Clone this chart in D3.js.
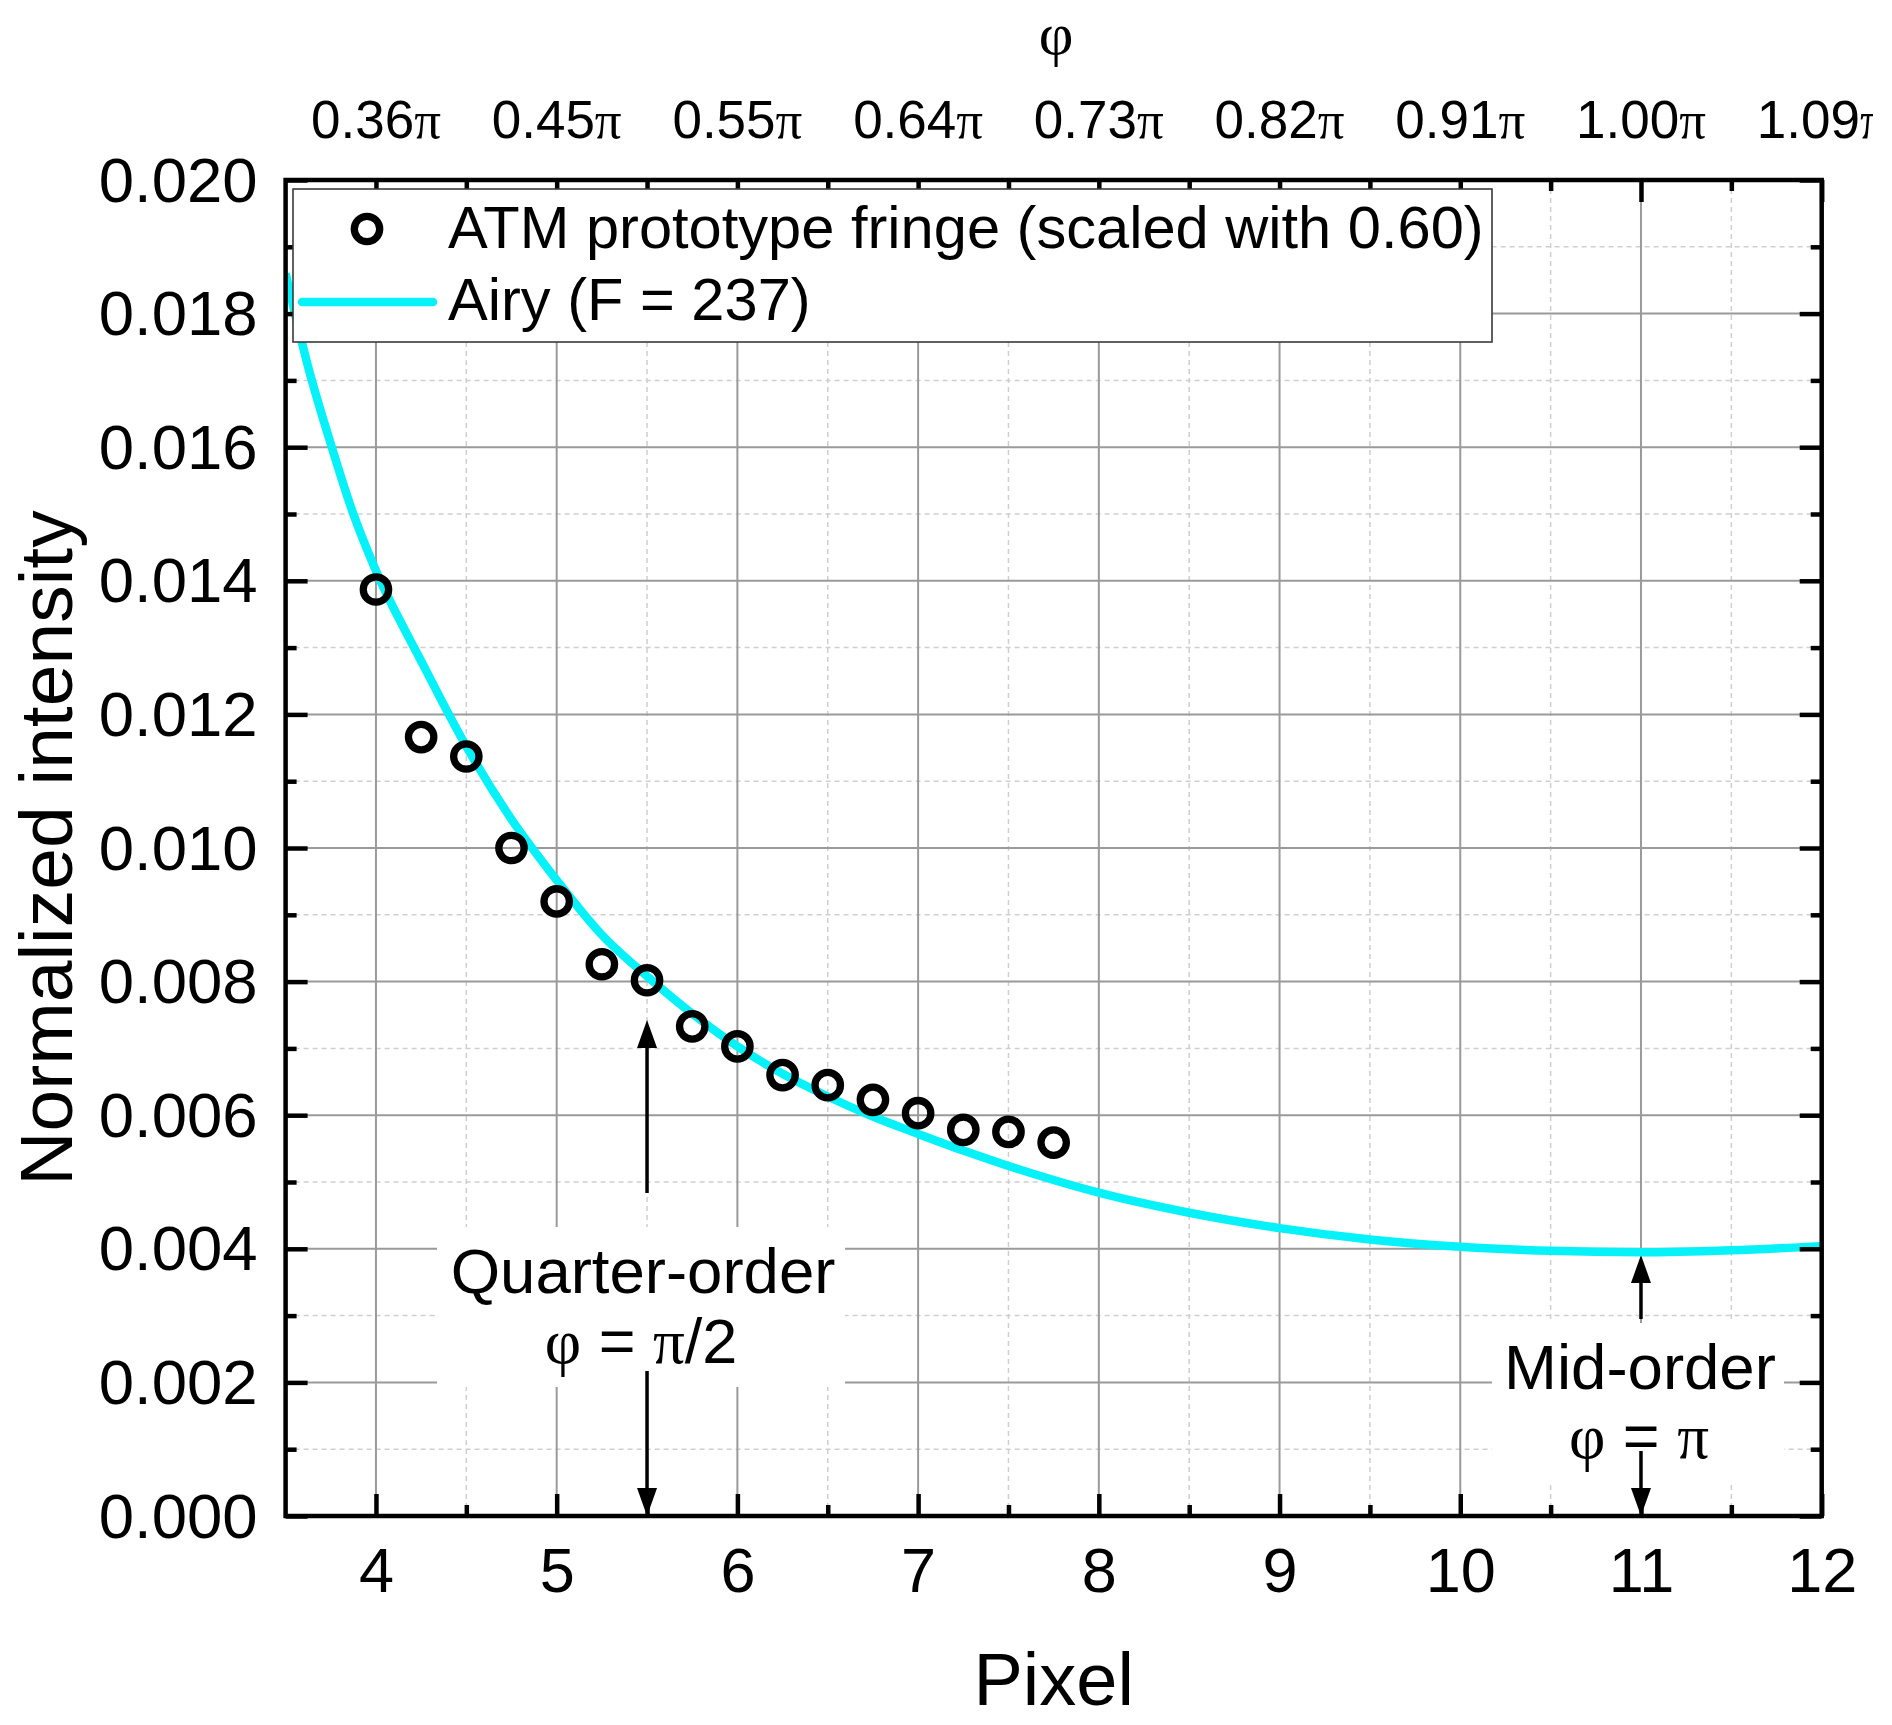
<!DOCTYPE html>
<html><head><meta charset="utf-8">
<script src="https://cdn.jsdelivr.net/npm/d3@7"></script>
<style>body{margin:0;background:#fff} svg{display:block}</style>
</head><body>
<svg id="chart" width="1892" height="1725"></svg>
<script>
// ---------- data ----------
const pixelTicks = [4, 5, 6, 7, 8, 9, 10, 11, 12];
const phiTickLabels = ["0.36", "0.45", "0.55", "0.64", "0.73", "0.82", "0.91", "1.00", "1.09"];
const intensityTicks = [0, 0.002, 0.004, 0.006, 0.008, 0.010, 0.012, 0.014, 0.016, 0.018, 0.020];

const fringePixels = [4, 4.25, 4.5, 4.75, 5, 5.25, 5.5, 5.75, 6, 6.25, 6.5, 6.75, 7, 7.25, 7.5, 7.75];
const fringeValues = [0.01387, 0.01166, 0.01137, 0.01000, 0.00920, 0.00826, 0.00802, 0.00733,
                      0.00703, 0.00660, 0.00645, 0.00623, 0.00603, 0.00578, 0.00575, 0.00559];

const airyPixels = [3.5, 3.625, 3.75, 3.875, 4, 4.25, 4.5, 4.75, 5, 5.25, 5.5, 5.75, 6, 6.25, 6.5,
                    6.75, 7, 7.25, 7.5, 7.75, 8, 8.5, 9, 9.5, 10, 10.5, 11, 11.5, 12];
const airyValues = [0.0186, 0.0172, 0.01605, 0.0150, 0.01415, 0.0128, 0.01152, 0.01043, 0.00952,
                    0.00870, 0.00808, 0.00752, 0.00703, 0.00662, 0.00628, 0.00598, 0.00572, 0.00547,
                    0.00524, 0.00503, 0.00484, 0.00454, 0.00431, 0.00414, 0.00403, 0.00397, 0.00395,
                    0.00398, 0.00404];

const legendLabels = ["ATM prototype fringe (scaled with 0.60)", "Airy (F = 237)"];

// ---------- setup ----------
const SANS = "'Liberation Sans', Arial, Helvetica, sans-serif";
const SERIF = "'Liberation Serif', 'Times New Roman', serif";
const CYAN = "#06F2F8";
const svg = d3.select("#chart");
const x = d3.scaleLinear().domain([3.5, 12]).range([285.6, 1821.7]);
const y = d3.scaleLinear().domain([0, 0.02]).range([1516, 180]);
const [X0, X1] = x.range();
const [Y0, Y1] = y.range(); // Y0 bottom, Y1 top

svg.append("defs").append("clipPath").attr("id", "plotclip")
  .append("rect").attr("x", X0).attr("y", Y1).attr("width", X1 - X0).attr("height", Y0 - Y1);
svg.select("defs").append("clipPath").attr("id", "topclip")
  .append("rect").attr("x", 0).attr("y", 0).attr("width", 1873).attr("height", 175);

// ---------- grid ----------
const grid = svg.append("g");
const minorX = d3.range(4.5, 12, 1);
const majorX = d3.range(4, 12, 1);
const minorY = d3.range(0.001, 0.0200, 0.002);
const majorY = d3.range(0.002, 0.0199, 0.002);
grid.selectAll(".mx").data(minorX).join("line")
  .attr("x1", d => x(d)).attr("x2", d => x(d)).attr("y1", Y1).attr("y2", Y0)
  .attr("stroke", "#cfcfcf").attr("stroke-width", 1.5).attr("stroke-dasharray", "5,4");
grid.selectAll(".my").data(minorY).join("line")
  .attr("y1", d => y(d)).attr("y2", d => y(d)).attr("x1", X0).attr("x2", X1)
  .attr("stroke", "#cfcfcf").attr("stroke-width", 1.5).attr("stroke-dasharray", "5,4");
grid.selectAll(".Mx").data(majorX).join("line")
  .attr("x1", d => x(d)).attr("x2", d => x(d)).attr("y1", Y1).attr("y2", Y0)
  .attr("stroke", "#9a9a9a").attr("stroke-width", 2);
grid.selectAll(".My").data(majorY).join("line")
  .attr("y1", d => y(d)).attr("y2", d => y(d)).attr("x1", X0).attr("x2", X1)
  .attr("stroke", "#9a9a9a").attr("stroke-width", 2);

// ---------- annotation boxes (white, cover grid) ----------
const ann = svg.append("g");
const qx = x(5.5), mx = x(11);
ann.append("rect").attr("x", qx - 210).attr("y", 1227).attr("width", 408).attr("height", 160).attr("fill", "#fff");
ann.append("rect").attr("x", mx - 149).attr("y", 1323).attr("width", 292).attr("height", 160).attr("fill", "#fff");

// ---------- curve ----------
const airy = airyPixels.map((p, i) => [p, airyValues[i]]);
svg.append("path").datum(airy)
  .attr("clip-path", "url(#plotclip)")
  .attr("fill", "none").attr("stroke", CYAN).attr("stroke-width", 8.5)
  .attr("d", d3.line().x(d => x(d[0])).y(d => y(d[1])).curve(d3.curveMonotoneX));

// ---------- points ----------
svg.append("g").selectAll("circle").data(fringePixels.map((p, i) => [p, fringeValues[i]]))
  .join("circle")
  .attr("cx", d => x(d[0])).attr("cy", d => y(d[1])).attr("r", 12.7)
  .attr("fill", "none").attr("stroke", "#000").attr("stroke-width", 7.3);

// ---------- annotations ----------
function arrow(g, cx, yFrom, yTip) {
  const dir = yTip > yFrom ? 1 : -1;
  const hl = 28, hw = 10;
  g.append("line").attr("x1", cx).attr("x2", cx).attr("y1", yFrom).attr("y2", yTip - dir * hl)
    .attr("stroke", "#000").attr("stroke-width", 3.5);
  g.append("path").attr("fill", "#000")
    .attr("d", `M${cx},${yTip} L${cx - hw},${yTip - dir * hl} L${cx + hw},${yTip - dir * hl} Z`);
}
function phiText(g, cx, baseline, rhs) {
  const t = g.append("text").attr("x", cx).attr("y", baseline).attr("text-anchor", "middle")
    .attr("font-size", 63).attr("font-family", SANS);
  t.append("tspan").attr("font-family", SERIF).text("φ");
  t.append("tspan").text(" = ");
  t.append("tspan").attr("font-family", SERIF).text("π");
  if (rhs) t.append("tspan").text(rhs);
}
// Quarter-order
ann.append("text").attr("x", qx - 4).attr("y", 1293).attr("text-anchor", "middle")
  .attr("font-size", 63.5).attr("font-family", SANS).text("Quarter-order");
phiText(ann, qx - 6, 1363, "/2");
arrow(ann, qx, 1193, 1020);
arrow(ann, qx, 1371, Y0);
// Mid-order
ann.append("text").attr("x", mx - 1).attr("y", 1389).attr("text-anchor", "middle")
  .attr("font-size", 63.5).attr("font-family", SANS).text("Mid-order");
phiText(ann, mx - 2, 1458, null);
arrow(ann, mx, 1319, 1255);
arrow(ann, mx, 1451, Y0);

// ---------- axes ticks ----------
const halfTicks = d3.range(4.5, 12, 1);
function styleAxis(g) {
  g.select(".domain").remove();
  g.selectAll(".tick line").attr("stroke", "#000").attr("stroke-width", 4.5);
}
// bottom
const gb = svg.append("g").attr("transform", `translate(0,${Y0})`)
  .call(d3.axisBottom(x).tickValues(pixelTicks).tickSize(-22).tickPadding(32).tickFormat(d3.format("d")));
styleAxis(gb);
gb.selectAll(".tick text").attr("font-size", 63).attr("font-family", SANS).attr("fill", "#000")
  .attr("dy", null).attr("y", 76);
svg.append("g").attr("transform", `translate(0,${Y0})`)
  .call(d3.axisBottom(x).tickValues(halfTicks).tickSize(-11).tickFormat("")).call(styleAxis);
// top
svg.append("g").attr("transform", `translate(0,${Y1})`)
  .call(d3.axisTop(x).tickValues(pixelTicks).tickSize(-22).tickFormat("")).call(styleAxis);
svg.append("g").attr("transform", `translate(0,${Y1})`)
  .call(d3.axisTop(x).tickValues(halfTicks).tickSize(-11).tickFormat("")).call(styleAxis);
const topLabels = svg.append("g").attr("clip-path", "url(#topclip)");
pixelTicks.forEach((p, i) => {
  const t = topLabels.append("text").attr("x", x(p)).attr("y", 138).attr("text-anchor", "middle")
    .attr("font-size", 53).attr("font-family", SANS);
  t.append("tspan").text(phiTickLabels[i]);
  t.append("tspan").attr("font-family", SERIF).text("π");
});
// left
const yMinor = d3.range(0.001, 0.020, 0.002);
const gl = svg.append("g").attr("transform", `translate(${X0},0)`)
  .call(d3.axisLeft(y).tickValues(intensityTicks).tickSize(-22).tickPadding(28).tickFormat(d3.format(".3f")));
styleAxis(gl);
gl.selectAll(".tick text").attr("font-size", 63.5).attr("font-family", SANS).attr("fill", "#000")
  .attr("dy", null).attr("x", -28).attr("y", 21);
svg.append("g").attr("transform", `translate(${X0},0)`)
  .call(d3.axisLeft(y).tickValues(yMinor).tickSize(-11).tickFormat("")).call(styleAxis);
// right
svg.append("g").attr("transform", `translate(${X1},0)`)
  .call(d3.axisRight(y).tickValues(intensityTicks).tickSize(-22).tickFormat("")).call(styleAxis);
svg.append("g").attr("transform", `translate(${X1},0)`)
  .call(d3.axisRight(y).tickValues(yMinor).tickSize(-11).tickFormat("")).call(styleAxis);

// ---------- legend ----------
const lg = svg.append("g");
lg.append("rect").attr("x", 293).attr("y", 189).attr("width", 1492 - 293).attr("height", 153)
  .attr("fill", "#fff").attr("stroke", "#3a3a3a").attr("stroke-width", 1.6);
lg.append("circle").attr("cx", 367).attr("cy", 229).attr("r", 12.7)
  .attr("fill", "none").attr("stroke", "#000").attr("stroke-width", 7.3);
lg.append("line").attr("x1", 302).attr("x2", 433).attr("y1", 302).attr("y2", 302)
  .attr("stroke", CYAN).attr("stroke-width", 8.5).attr("stroke-linecap", "round");
lg.selectAll("text.leg").data(legendLabels).join("text").attr("class", "leg")
  .attr("x", 448).attr("y", (d, i) => 248 + i * 72)
  .attr("font-size", 59.6).attr("font-family", SANS).text(d => d);

// ---------- frame ----------
svg.append("rect").attr("x", X0).attr("y", Y1).attr("width", X1 - X0).attr("height", Y0 - Y1)
  .attr("fill", "none").attr("stroke", "#000").attr("stroke-width", 4.5);

// ---------- titles ----------
svg.append("text").attr("x", (X0 + X1) / 2).attr("y", 1705).attr("text-anchor", "middle")
  .attr("font-size", 74).attr("font-family", SANS).text("Pixel");
svg.append("text").attr("transform", `translate(72,${(Y0 + Y1) / 2}) rotate(-90)`)
  .attr("text-anchor", "middle").attr("font-size", 75).attr("font-family", SANS).text("Normalized intensity");
svg.append("text").attr("x", 1056).attr("y", 54).attr("text-anchor", "middle")
  .attr("font-size", 60).attr("font-family", SERIF).text("φ");
</script>
</body></html>
